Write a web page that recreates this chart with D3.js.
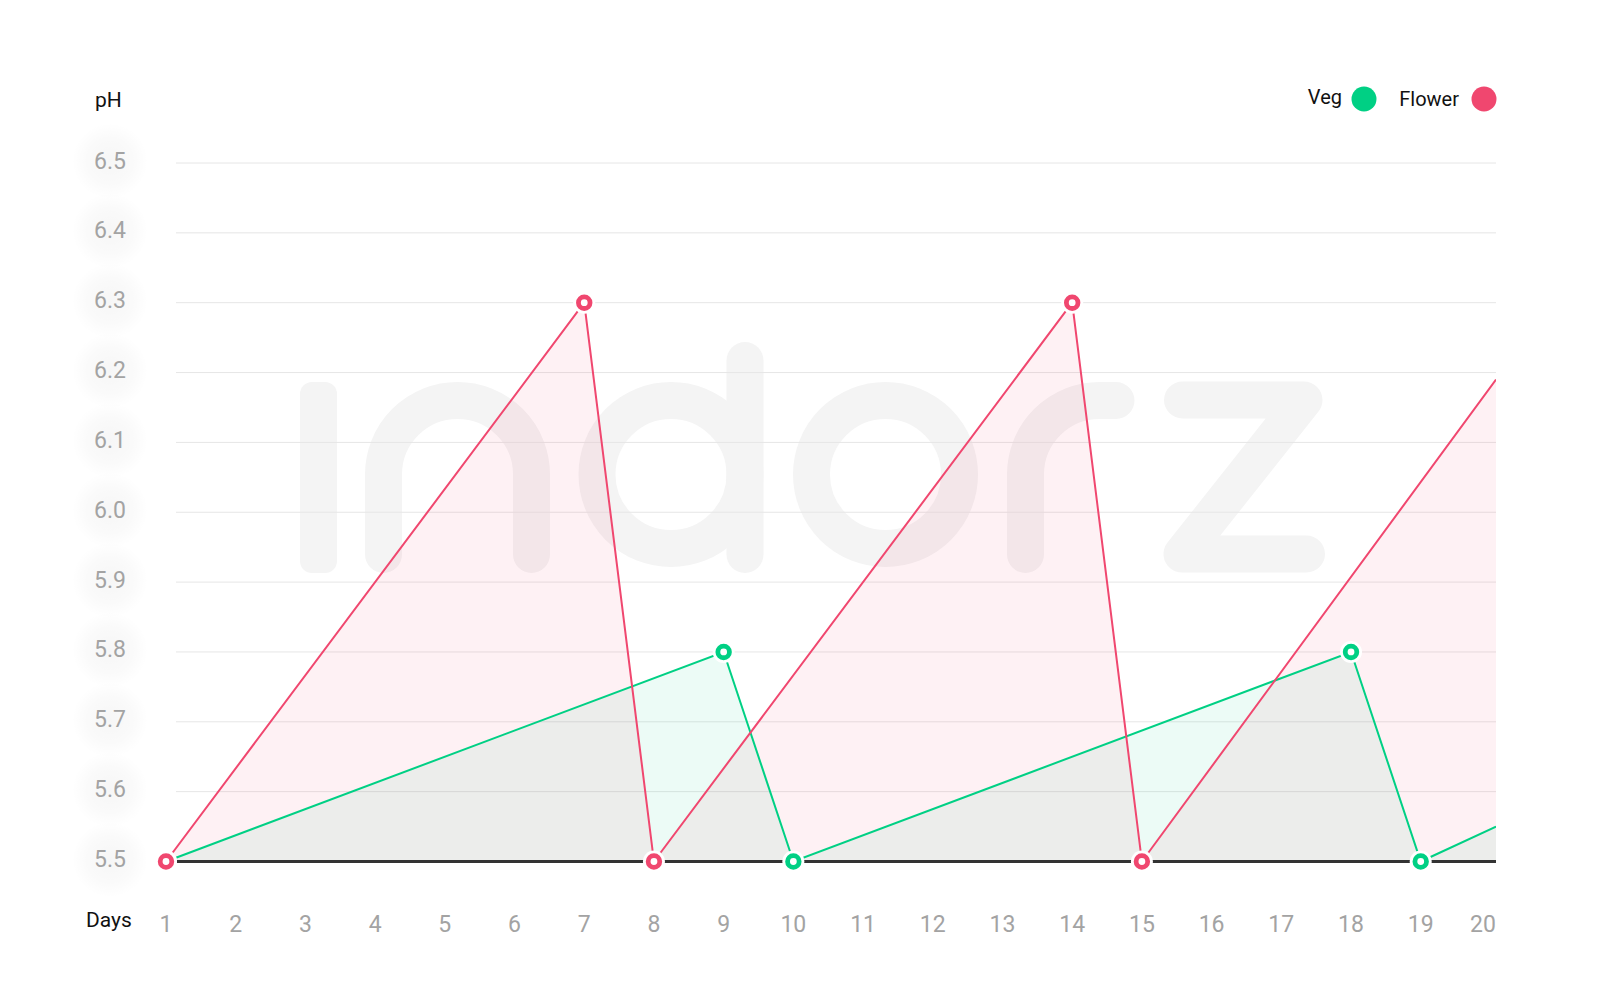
<!DOCTYPE html>
<html>
<head>
<meta charset="utf-8">
<script src="https://cdn.jsdelivr.net/npm/d3@7/dist/d3.min.js"></script>
<style>
  html, body { margin: 0; padding: 0; background: #fff; }
  svg { display: block; font-family: Roboto, "Noto Sans", sans-serif; }
</style>
</head>
<body>
<svg id="chart" width="1600" height="1000"></svg>
<script>
// ---- data ----
const seriesNames = ["Veg", "Flower"];
const vegDays   = [1, 9, 10, 18, 19, 20.08];
const vegPH     = [5.5, 5.8, 5.5, 5.8, 5.5, 5.55];
const flowerDays = [1, 7, 8, 14, 15, 20.08];
const flowerPH   = [5.5, 6.3, 5.5, 6.3, 5.5, 6.19];
const xTickLabels = [1,2,3,4,5,6,7,8,9,10,11,12,13,14,15,16,17,18,19,20];
const yTickLabels = [5.5,5.6,5.7,5.8,5.9,6.0,6.1,6.2,6.3,6.4,6.5];
const yAxisTitle = "pH";
const xAxisTitle = "Days";
const watermarkText = "indorz";

const colors = { Veg: "#00d084", Flower: "#f0476f" };

const svg = d3.select("#chart");
const x = d3.scaleLinear().domain([1, 20.08]).range([166, 1496]);
const y = d3.scaleLinear().domain([5.5, 6.5]).range([861.5, 163]);

const defs = svg.append("defs");
const glow = defs.append("radialGradient").attr("id", "glow");
glow.append("stop").attr("offset", "0%").attr("stop-color", "#000").attr("stop-opacity", 0.035);
glow.append("stop").attr("offset", "60%").attr("stop-color", "#000").attr("stop-opacity", 0.02);
glow.append("stop").attr("offset", "100%").attr("stop-color", "#000").attr("stop-opacity", 0);
defs.append("clipPath").attr("id", "plotClip")
  .append("rect").attr("x", 140).attr("y", 120).attr("width", 1496 - 140).attr("height", 760);

// ---- watermark (logo "indorz") ----
const wm = svg.append("g").attr("aria-label", watermarkText)
  .attr("fill", "none").attr("stroke", "#f4f4f4").attr("stroke-width", 37)
  .attr("stroke-linecap", "round").attr("stroke-linejoin", "round");
wm.append("rect").attr("x", 300).attr("y", 382).attr("width", 37).attr("height", 191).attr("rx", 12)
  .attr("fill", "#f4f4f4").attr("stroke", "none");
wm.append("path").attr("d", "M383.5,554.5 V474.5 A74,74 0 0 1 531.5,474.5 V554.5");
wm.append("circle").attr("cx", 671).attr("cy", 474.5).attr("r", 74);
wm.append("path").attr("d", "M745,360.5 V554.5");
wm.append("circle").attr("cx", 885.5).attr("cy", 474.5).attr("r", 74);
wm.append("path").attr("d", "M1025.5,554.5 V474.5 A74,74 0 0 1 1099.5,400.5 H1116");
wm.append("path").attr("d", "M1182.5,400 H1304 L1182,554 H1306.5");

// ---- gridlines ----
svg.append("g").selectAll("line")
  .data(yTickLabels.filter(v => v > 5.5))
  .join("line")
  .attr("x1", 176).attr("x2", 1496)
  .attr("y1", d => y(d)).attr("y2", d => y(d))
  .attr("stroke", "#e6e6e6").attr("stroke-width", 1);

// ---- y axis labels with glow ----
const yl = svg.append("g");
yl.selectAll("circle").data(yTickLabels).join("circle")
  .attr("cx", 110).attr("cy", d => y(d) - 2).attr("r", 38).attr("fill", "url(#glow)");
yl.selectAll("text").data(yTickLabels).join("text")
  .attr("x", 110).attr("y", d => y(d) - 2)
  .attr("text-anchor", "middle").attr("dominant-baseline", "central")
  .attr("font-size", 23).attr("fill", "#a3a3a3")
  .text(d => d.toFixed(1));

// ---- x axis labels ----
svg.append("g").selectAll("text").data(xTickLabels).join("text")
  .attr("x", d => Math.min(x(d), 1496 - 13))
  .attr("y", 932)
  .attr("text-anchor", "middle")
  .attr("font-size", 23).attr("fill", "#a3a3a3")
  .text(d => d);

// ---- titles ----
svg.append("text").attr("x", 95).attr("y", 107).attr("font-size", 21).attr("fill", "#111").text(yAxisTitle);
svg.append("text").attr("x", 86).attr("y", 927).attr("font-size", 21).attr("fill", "#111").text(xAxisTitle);

// ---- series ----
const series = [
  { name: "Veg", pts: vegDays.map((d, i) => [d, vegPH[i]]) },
  { name: "Flower", pts: flowerDays.map((d, i) => [d, flowerPH[i]]) }
];
const plot = svg.append("g").attr("clip-path", "url(#plotClip)");
const area = d3.area().x(d => x(d[0])).y0(y(5.5)).y1(d => y(d[1]));
const line = d3.line().x(d => x(d[0])).y(d => y(d[1]));

series.forEach(s => {
  plot.append("path").datum(s.pts).attr("d", area)
    .attr("fill", colors[s.name]).attr("fill-opacity", 0.075);
});
series.forEach(s => {
  plot.append("path").datum(s.pts).attr("d", line)
    .attr("fill", "none").attr("stroke", colors[s.name]).attr("stroke-width", 2);
});

// baseline
svg.append("line").attr("x1", x(1)).attr("x2", 1496)
  .attr("y1", y(5.5)).attr("y2", y(5.5))
  .attr("stroke", "#333").attr("stroke-width", 3);

// markers (not at the clipped edge point); Flower drawn last, on top
series.forEach(s => {
  const g = svg.append("g");
  const pts = s.pts.slice(0, -1);
  g.selectAll("circle.halo").data(pts).join("circle").attr("class", "halo")
    .attr("cx", d => x(d[0])).attr("cy", d => y(d[1])).attr("r", 11).attr("fill", "#fff");
  g.selectAll("circle.ring").data(pts).join("circle").attr("class", "ring")
    .attr("cx", d => x(d[0])).attr("cy", d => y(d[1])).attr("r", 5.8)
    .attr("fill", "#fff").attr("stroke", colors[s.name]).attr("stroke-width", 4.8);
});

// ---- legend ----
const legend = [
  { name: "Veg", tx: 1342, ty: 104, cx: 1364 },
  { name: "Flower", tx: 1459, ty: 106, cx: 1484 }
];
const lg = svg.append("g");
lg.selectAll("text").data(legend).join("text")
  .attr("x", d => d.tx).attr("y", d => d.ty).attr("text-anchor", "end")
  .attr("font-size", 20).attr("fill", "#111").text(d => d.name);
lg.selectAll("circle").data(legend).join("circle")
  .attr("cx", d => d.cx).attr("cy", 99).attr("r", 12.5).attr("fill", d => colors[d.name]);
</script>
</body>
</html>
